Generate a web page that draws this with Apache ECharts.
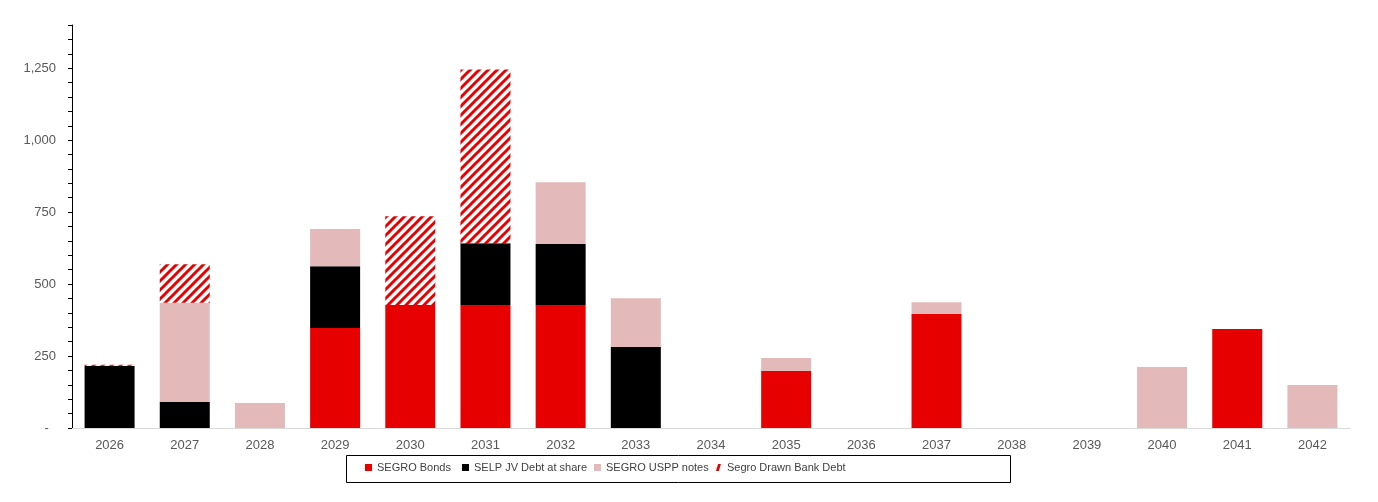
<!DOCTYPE html>
<html>
<head>
<meta charset="utf-8">
<script src="https://cdn.jsdelivr.net/npm/echarts@6/dist/echarts.min.js"></script>
<style>
html,body{margin:0;padding:0;background:#fff;}
#chart{width:1378px;height:502px;}
</style>
</head>
<body>
<div id="chart"></div>
<script>
const categories = ['2026','2027','2028','2029','2030','2031','2032','2033','2034','2035','2036','2037','2038','2039','2040','2041','2042'];
const segroBonds   = [null, null, null, 347, 427, 427, 427, null, null, 198, null, 396, null, null, null, 344, null];
const selpJvDebt   = [216, 91, null, 215, null, 215, 212, 281, null, null, null, null, null, null, null, null, null];
const segroUsppNotes = [null, 344, 87, 129, null, null, 215, 170, null, 45, null, 41, null, null, 212, null, 149];
const segroBankDebt = [4, 134, null, null, 309, 603, null, null, null, null, null, null, null, null, null, null, null];
const yLabelTicks = [0, 250, 500, 750, 1000, 1250];
const seriesNames = ['SEGRO Bonds', 'SELP JV Debt at share', 'SEGRO USPP notes', 'Segro Drawn Bank Debt'];

const RED = '#E60000', BLACK = '#000000', PINK = '#E3B9B9';

// hatch pattern
const P = 9;
const cv = document.createElement('canvas');
cv.width = P; cv.height = P;
const cx = cv.getContext('2d');
cx.fillStyle = '#ffffff';
cx.fillRect(0, 0, P, P);
cx.strokeStyle = RED;
cx.lineWidth = 3;
cx.beginPath();
cx.moveTo(-P, P); cx.lineTo(P, -P);
cx.moveTo(0, 2 * P); cx.lineTo(2 * P, 0);
cx.moveTo(-P, 2 * P); cx.lineTo(2 * P, -P);
cx.stroke();
const hatch = { image: cv, repeat: 'repeat' };

const chart = echarts.init(document.getElementById('chart'), null, { renderer: 'canvas' });

function legendAt(name, left, color) {
  return {
    data: [{ name: name, itemStyle: color ? { color: color } : undefined,
             icon: name === seriesNames[3] ? 'path://M3,0 L7,0 L4,10 L0,10 Z' : 'rect' }],
    left: left, top: 462, padding: 0,
    itemWidth: 7, itemHeight: 7,
    selectedMode: false,
    textStyle: { fontFamily: 'Liberation Sans', fontSize: 11, color: '#404040' }
  };
}

const option = {
  animation: false,
  backgroundColor: '#ffffff',
  grid: { left: 72, right: 28, top: 25, bottom: 74, containLabel: false },
  xAxis: {
    type: 'category',
    data: categories,
    axisLine: { lineStyle: { color: '#D9D9D9', width: 1 } },
    axisTick: { show: false },
    axisLabel: { color: '#595959', fontFamily: 'Liberation Sans', fontSize: 13, margin: 11 }
  },
  yAxis: {
    type: 'value',
    min: 0, max: 1400, interval: 50,
    splitLine: { show: false },
    axisLine: { show: true, lineStyle: { color: '#000000', width: 1 } },
    axisTick: { show: true, length: 4, lineStyle: { color: '#000000' } },
    axisLabel: {
      color: '#595959', fontFamily: 'Liberation Sans', fontSize: 13, margin: 16,
      formatter: function (v) {
        if (yLabelTicks.indexOf(v) < 0) return '';
        if (v === 0) return '-  ';
        return v.toLocaleString('en-US');
      }
    }
  },
  legend: [
    legendAt(seriesNames[0], 365),
    legendAt(seriesNames[1], 462),
    legendAt(seriesNames[2], 594),
    legendAt(seriesNames[3], 716, RED)
  ],
  graphic: [{
    type: 'rect',
    shape: { x: 346.5, y: 455.5, width: 664, height: 27 },
    style: { fill: 'none', stroke: '#000000', lineWidth: 1 },
    silent: true
  }],
  series: [
    { name: seriesNames[0], type: 'bar', stack: 'a', data: segroBonds, barWidth: 50, itemStyle: { color: RED } },
    { name: seriesNames[1], type: 'bar', stack: 'a', data: selpJvDebt, barWidth: 50, itemStyle: { color: BLACK } },
    { name: seriesNames[2], type: 'bar', stack: 'a', data: segroUsppNotes, barWidth: 50, itemStyle: { color: PINK } },
    { name: seriesNames[3], type: 'bar', stack: 'a', data: segroBankDebt, barWidth: 50, itemStyle: { color: hatch } }
  ]
};
chart.setOption(option);
</script>
</body>
</html>
